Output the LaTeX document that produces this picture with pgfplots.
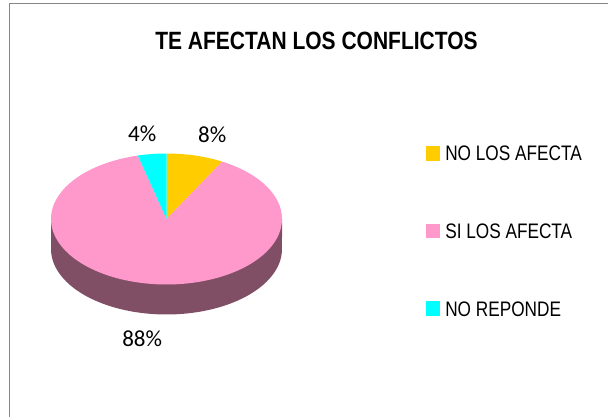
\documentclass[border=0pt]{standalone}
\usepackage{pgfplots}
\pgfplotsset{compat=1.18}
\usepackage{pgfplotstable}
\usepackage{fontspec}
\setmainfont{Liberation Sans}
\newfontfamily\narrowfont[FakeStretch=0.82]{Liberation Sans}
\newfontfamily\titlefont[FakeStretch=0.84]{Liberation Sans}
\newfontfamily\pctfont{Carlito}

\definecolor{cno}{RGB}{255,204,0}
\definecolor{csi}{RGB}{255,153,204}
\definecolor{cnr}{RGB}{0,255,255}
\definecolor{cside}{RGB}{128,79,102}
\definecolor{cframe}{RGB}{134,134,134}

\pgfplotstableread{
cat value
NO 8
SI 88
NR 4
}\piedata

\pgfplotstablegetelem{0}{value}\of\piedata \let\va\pgfplotsretval
\pgfplotstablegetelem{1}{value}\of\piedata \let\vb\pgfplotsretval
\pgfplotstablegetelem{2}{value}\of\piedata \let\vc\pgfplotsretval

\pgfmathsetmacro{\aA}{90}
\pgfmathsetmacro{\aB}{90-3.6*\va}
\pgfmathsetmacro{\aC}{\aB-3.6*\vb}
\pgfmathsetmacro{\aD}{\aC-3.6*\vc}

% pie geometry (picture pixels, y downwards)
\def\cx{166.5}\def\cy{219}\def\rx{115.5}\def\ry{65.5}\def\dep{30}
\pgfmathsetmacro{\xl}{\cx-\rx}
\pgfmathsetmacro{\xr}{\cx+\rx}

\begin{document}
\begin{tikzpicture}
\begin{axis}[
  width=456pt, height=312.75pt, scale only axis,
  xmin=0, xmax=608, ymin=0, ymax=417, y dir=reverse,
  hide axis, clip=false,
]
% frame
\draw[cframe, line width=1.2pt] (9.5,3.5) rectangle (640,440);

% side wall
\addplot[draw=none, fill=cside, domain=180:360, samples=90, forget plot]
  ({\cx+\rx*cos(x)},{\cy+\dep-\ry*sin(x)}) -- (\xr,\cy) -- (\xl,\cy) -- cycle;

% slices
\addplot[draw=none, fill=cno, domain=\aB:\aA, samples=20]
  ({\cx+\rx*cos(x)},{\cy-\ry*sin(x)}) -- (\cx,\cy) -- cycle;
\addplot[draw=none, fill=csi, domain=\aC:\aB, samples=150]
  ({\cx+\rx*cos(x)},{\cy-\ry*sin(x)}) -- (\cx,\cy) -- cycle;
\addplot[draw=none, fill=cnr, domain=\aD:\aC, samples=12]
  ({\cx+\rx*cos(x)},{\cy-\ry*sin(x)}) -- (\cx,\cy) -- cycle;

% percentage labels
\node[anchor=base, inner sep=0pt] at (axis cs:212.2,142.5) {\pctfont\fontsize{17.25pt}{20pt}\selectfont 8\%};
\node[anchor=base, inner sep=0pt] at (axis cs:142.2,141.7) {\pctfont\fontsize{17.25pt}{20pt}\selectfont 4\%};
\node[anchor=base, inner sep=0pt] at (axis cs:142.2,346.7) {\pctfont\fontsize{17.25pt}{20pt}\selectfont 88\%};

% title
\node[anchor=base, inner sep=0pt] at (axis cs:316.5,49.3) {\titlefont\bfseries\fontsize{18.75pt}{22pt}\selectfont TE AFECTAN LOS CONFLICTOS};

% legend
\fill[cno] (426,146) rectangle (440,160.7);
\fill[csi] (426,223.6) rectangle (440,238.3);
\fill[cnr] (426,301.3) rectangle (440,316);
\node[anchor=base west, inner sep=0pt] at (axis cs:445,160.7) {\narrowfont\fontsize{15.75pt}{18pt}\selectfont NO LOS AFECTA};
\node[anchor=base west, inner sep=0pt] at (axis cs:445,238.3) {\narrowfont\fontsize{15.75pt}{18pt}\selectfont SI LOS AFECTA};
\node[anchor=base west, inner sep=0pt] at (axis cs:445,316) {\narrowfont\fontsize{15.75pt}{18pt}\selectfont NO REPONDE};
\end{axis}
\pgfresetboundingbox
\useasboundingbox (current axis.south west) rectangle (current axis.north east);
\end{tikzpicture}
\end{document}
